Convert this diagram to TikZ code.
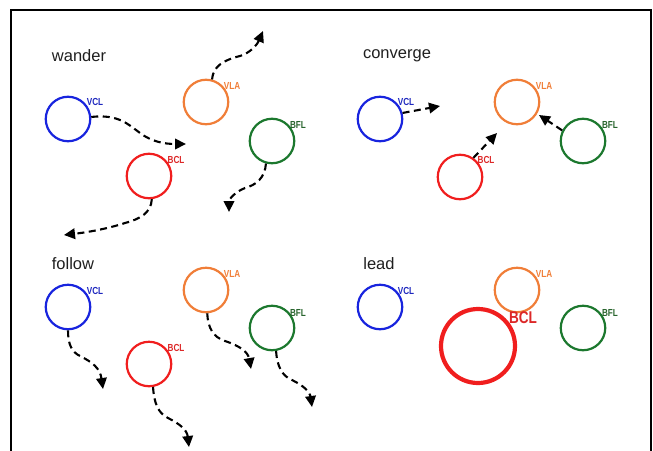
\documentclass[tikz,border=0pt]{standalone}
\usepackage{fontspec}
\setmainfont{Liberation Sans}
\newfontfamily\labfont[FakeStretch=0.8]{Liberation Sans}
\usetikzlibrary{arrows.meta}
\definecolor{cblue}{RGB}{24,36,222}
\definecolor{corange}{RGB}{240,126,56}
\definecolor{cgreen}{RGB}{28,120,46}
\definecolor{cred}{RGB}{240,30,30}
\definecolor{tblue}{RGB}{30,40,190}
\definecolor{tgreen}{RGB}{40,100,45}
\definecolor{tred}{RGB}{220,40,40}
\begin{document}
\begin{tikzpicture}[x=1pt,y=-1pt,
  ring/.style={circle, draw, line width=2.2pt, minimum size=44.5pt, inner sep=0pt},
  bigring/.style={circle, draw, line width=4.2pt, minimum size=74pt, inner sep=0pt},
  tag/.style={font=\labfont\bfseries\fontsize{10.2}{10.2}\selectfont, inner sep=0pt},
  bigtag/.style={font=\labfont\bfseries\fontsize{17}{17}\selectfont, inner sep=0pt},
  title/.style={font=\fontsize{16.5}{16.5}\selectfont, text=black!88, inner sep=0pt},
  move/.style={line width=2.1pt, dash pattern=on 7pt off 4.5pt, -{Triangle[length=11pt,width=10.5pt]}},
]
\useasboundingbox (0,0) rectangle (653,450);
\draw[line width=2.2pt] (11.2,451) -- (11.2,9.8) -- (651,9.8) -- (651,451);

% ---------- wander ----------
\node[title] (tw) at (79,56) {wander};
\node[ring, cblue] (wV) at (68,119) {};
\node[ring, corange] (wA) at (206,102) {};
\node[ring, cgreen] (wF) at (272,141) {};
\node[ring, cred] (wB) at (149,176) {};
\node[tag, text=tblue] (wVt) at (95,102) {VCL};
\node[tag, text=corange] (wAt) at (232,86) {VLA};
\node[tag, text=tgreen] (wFt) at (298,125) {BFL};
\node[tag, text=tred] (wBt) at (176,160) {BCL};
\coordinate (wV1) at (186,144);
\coordinate (wA1) at (263,31);
\coordinate (wF1) at (229,212);
\coordinate (wB1) at (64,235);
\draw[move] (wV.5) .. controls (118,114) and (128,124) .. (140,133) .. controls (152,142) and (165,144) .. (wV1);
\draw[move] (wA.75) .. controls (213,66) and (224,60) .. (240,56) .. controls (250,53) and (257,45) .. (wA1);
\draw[move] (wF.-105) .. controls (265,178) and (256,185) .. (245,188) .. controls (235,192) and (229,199) .. (wF1);
\draw[move] (wB.-83) .. controls (151,213) and (140,219) .. (125,223) .. controls (110,228) and (90,232) .. (wB1);

% ---------- converge ----------
\node[title] (tc) at (397,56) {converge};
\node[ring, cblue] (cV) at (380,119) {};
\node[ring, corange] (cA) at (517,102) {};
\node[ring, cgreen] (cF) at (583,141) {};
\node[ring, cred] (cB) at (460,177) {};
\node[tag, text=tblue] (cVt) at (406,102) {VCL};
\node[tag, text=corange] (cAt) at (544,86) {VLA};
\node[tag, text=tgreen] (cFt) at (610,125) {BFL};
\node[tag, text=tred] (cBt) at (486,160) {BCL};
\coordinate (cV1) at (440,106);
\coordinate (cB1) at (497,133);
\coordinate (cF1) at (539,115);
\draw[move] (cV.15) -- (cV1);
\draw[move] (cB.55) -- (cB1);
\draw[move] (cF.153) -- (cF1);

% ---------- follow ----------
\node[title] (tf) at (73,264) {follow};
\node[ring, cblue] (fV) at (68,307) {};
\node[ring, corange] (fA) at (206,290) {};
\node[ring, cgreen] (fF) at (272,328) {};
\node[ring, cred] (fB) at (149,364) {};
\node[tag, text=tblue] (fVt) at (95,291) {VCL};
\node[tag, text=corange] (fAt) at (232,274) {VLA};
\node[tag, text=tgreen] (fFt) at (298,313) {BFL};
\node[tag, text=tred] (fBt) at (176,348) {BCL};
\coordinate (fV1) at (103,389);
\coordinate (fB1) at (189,447);
\coordinate (fA1) at (251,369);
\coordinate (fF1) at (312,407);
\draw[move] (fV.-90) .. controls (68,345) and (72,352) .. (80,356) .. controls (92,362) and (100,368) .. (fV1);
\draw[move] (fB.-80) .. controls (154,403) and (158,413) .. (168,418) .. controls (180,424) and (187,430) .. (fB1);
\draw[move] (fA.-87) .. controls (208,328) and (213,337) .. (225,341) .. controls (240,346) and (248,352) .. (fA1);
\draw[move] (fF.-80) .. controls (277,366) and (282,376) .. (292,380) .. controls (304,386) and (310,392) .. (fF1);

% ---------- lead ----------
\node[title] (tl) at (379,264) {lead};
\node[ring, cblue] (lV) at (380,307) {};
\node[ring, corange] (lA) at (517,290) {};
\node[ring, cgreen] (lF) at (583,328) {};
\node[bigring, cred] (lB) at (478,346) {};
\node[tag, text=tblue] (lVt) at (406,291) {VCL};
\node[tag, text=corange] (lAt) at (544,274) {VLA};
\node[tag, text=tgreen] (lFt) at (610,313) {BFL};
\node[bigtag, text=tred] (lBt) at (523,318) {BCL};
\end{tikzpicture}
\end{document}
